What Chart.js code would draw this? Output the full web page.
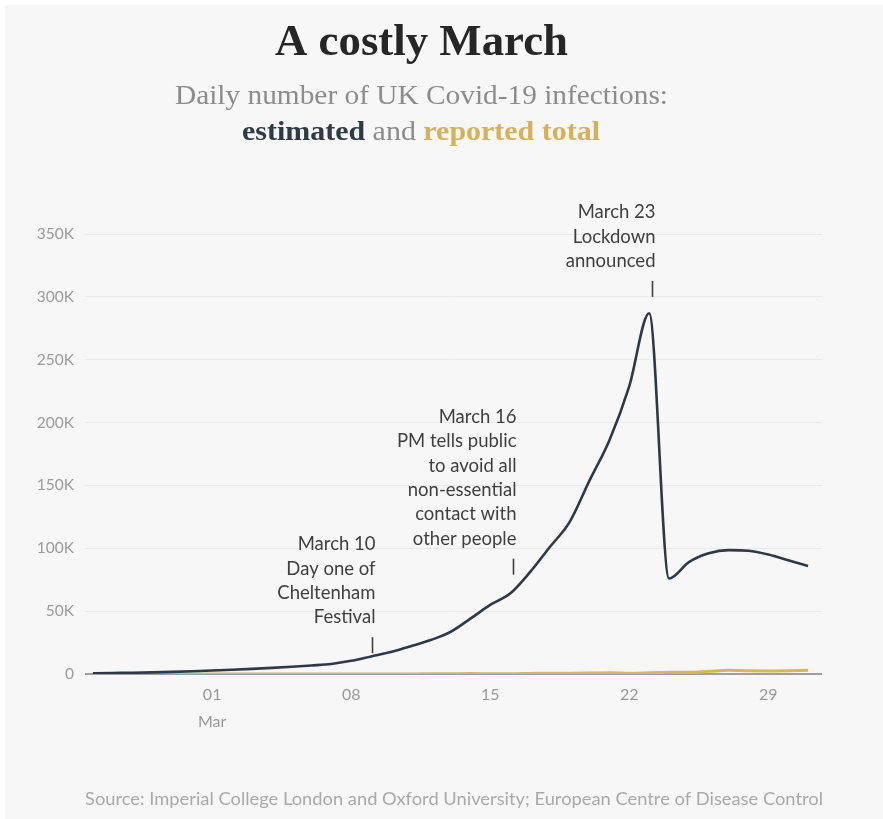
<!DOCTYPE html>
<html>
<head>
<meta charset="utf-8">
<title>A costly March</title>
<script src="https://cdn.jsdelivr.net/npm/chart.js@4.4.1/dist/chart.umd.min.js"></script>
<style>
  html, body { margin: 0; padding: 0; background: #ffffff; }
  #wrap { width: 883px; height: 819px; }
</style>
</head>
<body>
<div id="wrap"><canvas id="chart" width="883" height="819"></canvas></div>
<script>
// Day numbers relative to 1 March 2020 (0 = 29 Feb, -5 = 24 Feb)
const days = [-5, -4, -3, -2, -1, 0, 1, 2, 3, 4, 5, 6, 7, 8, 9, 10, 11, 12, 13, 14, 15,
  16, 17, 18, 19, 20, 21, 22, 23, 24, 25, 26, 27, 28, 29, 30, 31];

// Estimated daily infections (thousands)
const estimated = [0.6, 0.8, 1.0, 1.3, 1.7, 2.2, 2.8, 3.4, 4.1, 4.9, 5.8, 6.8, 8.0, 10.5, 14, 17.5,
  22, 27, 33.5, 44, 55, 64, 81, 101, 121, 154, 186, 229, 287, 76, 89, 96, 98.5, 98, 95, 90.5, 86];

// Reported daily cases (thousands)
const reported = [0, 0, 0, 0, 0.003, 0.004, 0.012, 0.004, 0.011, 0.034, 0.029, 0.048, 0.045, 0.069,
  0.043, 0.062, 0.077, 0.13, 0.208, 0.342, 0.251, 0.152, 0.407, 0.676, 0.643, 0.714, 1.035, 0.665,
  0.967, 1.427, 1.452, 2.129, 2.885, 2.546, 2.433, 2.619, 3.009];

// Labelled days on the x axis
const tickDays = [1, 8, 15, 22, 29];

// Event annotations: day position, level (thousands) of the marker's foot, text lines
const eventDays = [9.05, 16.15, 23.15];
const eventLevels = [16.5, 79, 300];
const eventTexts = [
  ['March 10', 'Day one of', 'Cheltenham', 'Festival'],
  ['March 16', 'PM tells public', 'to avoid all', 'non-essential', 'contact with', 'other people'],
  ['March 23', 'Lockdown', 'announced']
];

const NAVY = '#2e3846';
const GOLD = '#d8b660';
const GREY_TEXT = '#8c8c8c';

const toPoints = (vals) => days.map((d, i) => ({ x: d, y: vals[i] * 1000 }));

// Draw a row of differently styled text runs, centred and squeezed to a given width
function drawRuns(ctx, runs, cx, baseline, targetWidth) {
  let total = 0;
  const widths = runs.map(r => { ctx.font = r.font; const w = ctx.measureText(r.text).width; total += w; return w; });
  const s = targetWidth / total;
  ctx.save();
  ctx.translate(cx - targetWidth / 2, baseline);
  ctx.scale(s, 1);
  ctx.textAlign = 'left';
  ctx.textBaseline = 'alphabetic';
  let x = 0;
  runs.forEach((r, i) => {
    ctx.font = r.font;
    ctx.fillStyle = r.color;
    ctx.fillText(r.text, x, 0);
    x += widths[i];
  });
  ctx.restore();
}

const backdrop = {
  id: 'backdrop',
  beforeDraw(chart) {
    const c = chart.ctx;
    c.save();
    c.fillStyle = '#ffffff';
    c.fillRect(0, 0, chart.width, chart.height);
    c.fillStyle = '#f7f7f7';
    c.fillRect(5, 5, chart.width - 5, chart.height - 5);
    c.restore();
  }
};

const headings = {
  id: 'headings',
  afterDraw(chart) {
    const c = chart.ctx;
    const serif = '"Liberation Serif", "DejaVu Serif", serif';
    const sans = 'Lato, "Open Sans", sans-serif';
    drawRuns(c, [{ text: 'A costly March', font: `bold 45px ${serif}`, color: '#262626' }], 421.5, 55, 293);
    drawRuns(c, [{ text: 'Daily number of UK Covid-19 infections:', font: `28px ${serif}`, color: GREY_TEXT }], 421.5, 104, 493);
    drawRuns(c, [
      { text: 'estimated', font: `bold 28px ${serif}`, color: '#2f3a49' },
      { text: ' and ', font: `28px ${serif}`, color: GREY_TEXT },
      { text: 'reported total', font: `bold 28px ${serif}`, color: '#d6b159' }
    ], 421, 140, 358);
    drawRuns(c, [{
      text: 'Source: Imperial College London and Oxford University; European Centre of Disease Control',
      font: `17px ${sans}`, color: '#a9a9a9'
    }], 454, 805, 738);
  }
};

const events = {
  id: 'events',
  afterDatasetsDraw(chart) {
    const c = chart.ctx;
    const xs = chart.scales.x, ys = chart.scales.y;
    c.save();
    eventDays.forEach((d, i) => {
      const px = Math.round(xs.getPixelForValue(d)) + 0.5;
      const foot = ys.getPixelForValue(eventLevels[i] * 1000);
      const top = foot - 16;
      c.strokeStyle = '#3f3f3f';
      c.lineWidth = 1.6;
      c.beginPath();
      c.moveTo(px, foot);
      c.lineTo(px, top);
      c.stroke();
      const lines = eventTexts[i];
      c.font = '18.5px Lato, "Open Sans", sans-serif';
      c.fillStyle = '#3f3f3f';
      c.textAlign = 'right';
      c.textBaseline = 'middle';
      const lh = 24.3;
      const lastY = top - 20;
      lines.forEach((t, k) => {
        c.fillText(t, px + 3, lastY - (lines.length - 1 - k) * lh);
      });
    });
    c.restore();
  }
};

new Chart(document.getElementById('chart'), {
  type: 'line',
  data: {
    datasets: [
      {
        label: 'Estimated',
        data: toPoints(estimated),
        borderColor: NAVY,
        borderWidth: 2.6,
        pointRadius: 0,
        cubicInterpolationMode: 'monotone',
        fill: false
      },
      {
        label: 'Reported',
        data: toPoints(reported),
        borderColor: GOLD,
        borderWidth: 3,
        pointRadius: 0,
        cubicInterpolationMode: 'monotone',
        fill: false
      }
    ]
  },
  options: {
    responsive: false,
    animation: false,
    devicePixelRatio: 1,
    layout: { padding: { top: 234, left: 0, right: 61, bottom: 65 } },
    plugins: { legend: { display: false }, tooltip: { enabled: false } },
    scales: {
      x: {
        type: 'linear',
        min: -5.4,
        max: 31.7,
        grid: { display: false, drawTicks: false },
        border: { display: false },
        afterBuildTicks: (s) => { s.ticks = tickDays.map(v => ({ value: v })); },
        afterFit: (s) => { s.height = 80; },
        ticks: {
          autoSkip: false,
          maxRotation: 0,
          padding: 7.4,
          color: '#999999',
          font: { family: 'Lato, "Open Sans", sans-serif', size: 16, lineHeight: 1.7 },
          callback: (v) => v === 1 ? ['01', 'Mar'] : String(v).padStart(2, '0')
        }
      },
      y: {
        min: 0,
        max: 350000,
        afterFit: (s) => { s.width = 85; },
        grid: {
          drawTicks: false,
          color: (c) => c.tick && c.tick.value === 0 ? '#9e9e9e' : '#e9e9e9',
          lineWidth: (c) => c.tick && c.tick.value === 0 ? 2 : 1
        },
        border: { display: false },
        ticks: {
          stepSize: 50000,
          padding: 11,
          color: '#9b9b9b',
          font: { family: 'Lato, "Open Sans", sans-serif', size: 15.5 },
          callback: (v) => v === 0 ? '0' : (v / 1000) + 'K'
        }
      }
    }
  },
  plugins: [backdrop, headings, events]
});
</script>
</body>
</html>
